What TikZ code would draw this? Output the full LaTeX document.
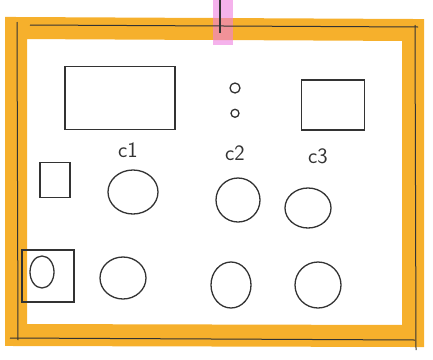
\documentclass[tikz,border=0pt]{standalone}
\usepackage{tikz}
\usetikzlibrary{shapes.geometric,positioning}
\definecolor{marker}{HTML}{F6B02C}
\definecolor{pinkmark}{HTML}{EE7FE0}
\definecolor{pencil}{HTML}{333333}

\begin{document}
\begin{tikzpicture}[
    x=1pt, y=-1pt,
    sketch/.style={draw=pencil, line width=1.3pt},
    boxy/.style={sketch, rectangle, inner sep=0pt},
    blob/.style={sketch, ellipse, inner sep=0pt},
    dot/.style={sketch, circle, inner sep=0pt},
    lbl/.style={font=\fontsize{22}{26}\selectfont\sffamily, text=pencil}
]
\useasboundingbox (0,0) rectangle (433,359);

% Frame
\draw[marker, line width=22pt, line join=miter] (16,28) -- (413,30) -- (413,336) -- (16,335) -- cycle;
\fill[pinkmark, opacity=0.6] (213,0) rectangle (233,45);
\draw[pencil, line width=1pt] (30,25) -- (418,27);
\draw[pencil, line width=1pt] (17,22) -- (18,340);
\draw[pencil, line width=1pt] (415,25) -- (416,350);
\draw[pencil, line width=1pt] (10,338) -- (415,340);
\draw[pencil, line width=2pt] (220,0) -- (220,33);

% Top row
\node[boxy, minimum width=110pt, minimum height=63pt] (screen) at (120,98) {};
\node[dot, minimum size=10pt] (dotA) at (235,88) {};
\node[dot, minimum size=8pt] (dotB) [below=15pt of dotA] {};
\node[boxy, minimum width=63pt, minimum height=50pt] (panel) at (333,105) {};

% Labels
\node[lbl] (cA) at (128,150) {c1};
\node[lbl] (cB) at (235,153) {c2};
\node[lbl] (cC) at (318,156) {c3};

% Row 1
\node[boxy, minimum width=30pt, minimum height=35pt] (cup) at (55,180) {};
\node[blob, minimum width=50pt, minimum height=44pt] (rA1) at (133,192) {};
\node[blob, minimum width=44pt, minimum height=44pt] (rB1) at (238,200) {};
\node[blob, minimum width=46pt, minimum height=40pt] (rC1) at (308,208) {};

% Row 2
\node[boxy, minimum width=52pt, minimum height=52pt] (frameB) at (48,276) {};
\node[blob, minimum width=24pt, minimum height=32pt] (inner) at (42,272) {};
\node[blob, minimum width=46pt, minimum height=42pt] (rA2) at (123,278) {};
\node[blob, minimum width=40pt, minimum height=46pt] (rB2) at (231,285) {};
\node[blob, minimum width=46pt, minimum height=46pt] (rC2) at (318,285) {};

\end{tikzpicture}
\end{document}
